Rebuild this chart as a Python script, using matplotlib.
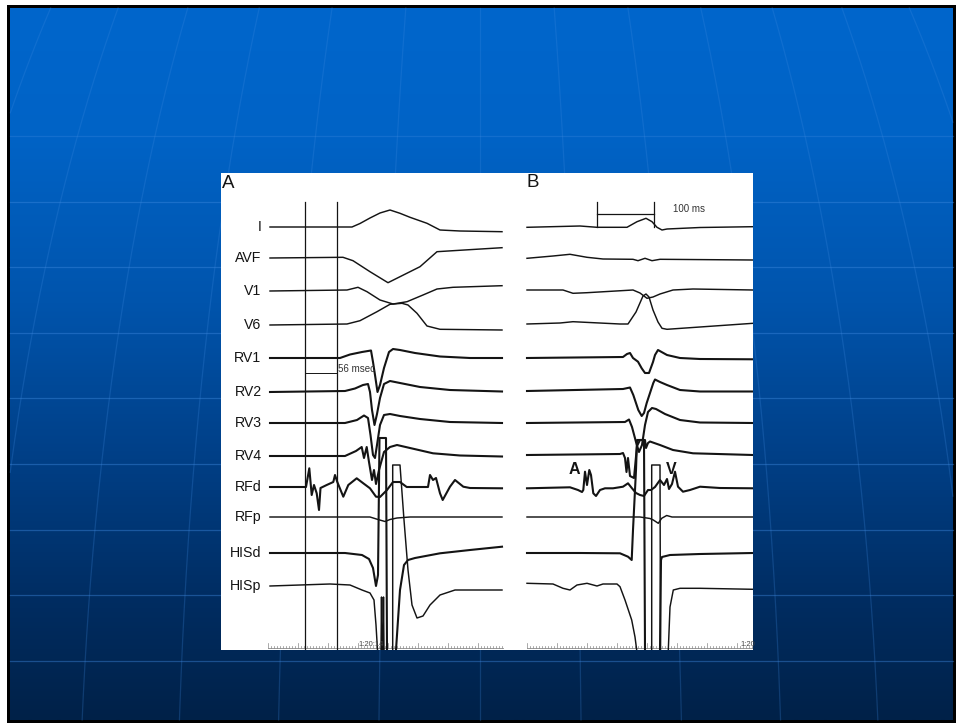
import numpy as np
import matplotlib
matplotlib.use("Agg")
import matplotlib.pyplot as plt
from matplotlib.patches import Rectangle

# ------------------------------------------------------------------
# DATA  (t = samples from trace start, v = deflection, +up; None = clipped gap)
# ------------------------------------------------------------------
channels = ["I", "AVF", "V1", "V6", "RV1", "RV2", "RV3", "RV4", "RFd", "RFp", "HISd", "HISp"]
noisy_channels = ["RV1", "RV2", "RV3", "RV4", "RFd", "HISd"]

# ---------- Panel A ----------
A_I = [(0, 0), (82, 0), (90, 3.5), (100, 9), (110, 14), (120, 17), (130, 13.7), (140, 9.7),
       (157, 3.7), (170, -3), (190, -4), (232, -4.7)]
A_AVF = [(0, 0), (73, 0.7), (83, -2.7), (100, -13.7), (118, -24.7), (130, -18.7), (150, -8.7),
         (167, 6.3), (183, 7.3), (232, 10.3)]
A_V1 = [(0, 0), (77, 1), (88, 3.7), (97, -0.7), (110, -9), (123, -13), (137, -10.7), (153, -4),
        (167, 2), (183, 3.7), (232, 5.3)]
A_V6 = [(0, 0), (77, 1), (90, 4.3), (107, 13.3), (120, 20.7), (132, 21.7), (138, 20), (147, 11.7),
        (157, -1), (170, -4.3), (232, -5)]
A_RV1 = [(0, 0), (70, 0), (80, 3.5), (92, 6), (98, 7), (101, 7.5), (103, -4), (105, -17), (107.5, -34),
         (110, -27), (114, -10), (119, 6), (123, 9), (130, 8), (145, 5), (170, 1.5), (200, 0), (232, 0)]
A_RV2 = [(0, 0), (75, 1), (85, 3.5), (93, 7), (98, 8), (100, 0), (102, -18), (104.5, -33), (107, -22),
         (110, -6), (114, 8), (120, 11), (130, 9), (150, 5), (180, 2), (232, 0.5)]
A_RV3 = [(0, 0), (75, 0), (87, 3), (94, 7.5), (98, 5), (100.5, -12), (103, -32), (105, -35), (107, -22),
         (110, -2), (114, 8), (120, 9), (130, 7), (150, 4), (180, 1), (232, 0)]
A_RV4 = [(0, 0), (75, 0), (86, 5), (91.7, 9), (94, -2), (96.7, 9), (99, -6), (102, -24), (104, -14),
         (106, -28), (109, -14), (114, 4), (120, 9), (127, 11), (140, 8), (163, 2.7), (190, 0.5), (232, -0.5)]
A_RFd = [(0, 0), (36, 0), (39.3, 18.7), (41.7, -8), (44, 2), (46.7, -6.3), (49, -23), (50.5, -1),
         (56.7, 2), (63.3, 5), (65, 12), (67.3, 5), (73.3, -9.7), (78.3, 2), (86.7, 8.7), (93.3, 3.7),
         (100, -1.3), (106, -9.7), (110, -10), (117, -3), (123, 5), (130, 5), (136.7, 0), (158, 0),
         (160, 12), (163, 7), (166, 9), (170, -6.3), (172.7, -13), (180, 0.3), (185, 7), (193.3, 0.3),
         (200, -1), (232, -1.3)]
A_RFp = [(0, 0), (100, 0), (108, -2.5), (115, -4.5), (120, -2.5), (127, -1), (140, 0), (232, 0)]
A_HISd = [(0, 0), (75, 0), (92, -2), (99, -6), (103, -15), (106, -33), (108, -22), (109.5, 115),
          (116, 115), (117, -97), None,
          (126, -97), (130, -37), (134, -12), (138, -7), (145, -5), (170, -0.3), (200, 3), (232, 6.3)]
A_HISp = [(0, 0), (30, 1), (60, 2), (80, 1), (92, -4), (100, -7), (104, -14), (106, -39), (107.5, -64), None,
          (111, -64), (111.5, -11), (112, -64), None,
          (113, -64), (113.5, -11), (114, -64), None,
          (122.7, -64), (122.7, 121), (130, 121), (134, 66), (138, 16), (142, -19), (147, -32),
          (153, -30), (160, -19), (170, -9), (185, -4), (232, -4)]

# ---------- Panel B ----------
B_I = [(0, -0.3), (53, 1), (70, -0.3), (100, -0.3), (110, 5.3), (119, 8.7), (125, 5.3), (130, -0.3),
       (135, -3), (140, -2), (173, -0.5), (226, 0.3)]
B_AVF = [(0, -0.3), (26, 2), (43, 3.7), (60, 0.7), (76, -1), (106, -1.3), (111, -2.7), (118, -0.3),
         (125, -2.7), (133, -1.3), (226, -2)]
B_V1 = [(0, 0), (36, 0), (46, -3.3), (60, -2.7), (106, 0), (113, -3), (120, -8.3), (126, -7),
        (133, -4), (146, 0), (166, 1), (226, 0)]
B_V6 = [(0, 0), (33, 1), (46, 2.3), (93, 0), (101, 0), (109, 12), (116, 28), (119, 30), (122, 27),
        (126, 14), (131, 2), (135, -4.3), (140, -5.3), (226, 0.7)]
B_RV1 = [(0, 0), (96, 1), (100, 4), (103, 5), (106, 0), (111, -3.7), (114.7, -10.3), (118, -15),
         (122, -15), (126, -4), (128, 3), (131, 8), (140, 3), (153, 0), (173, -1), (226, -1.3)]
B_RV2 = [(0, 0), (96, 2), (103, 3.5), (106.3, -4), (111.3, -19), (114.7, -25), (117, -22), (119.7, -12),
         (123, -2), (126.3, 8), (128, 11.5), (133, 9), (140, 6), (153, 1), (173, -0.5), (226, -0.5)]
B_RV3 = [(0, 0), (98, 1), (102, 3.5), (105, -4), (109, -19), (112, -29), (115, -22), (118, -2),
         (121, 11), (125, 15), (129, 14), (138, 9), (153, 3), (173, 0.5), (226, 0)]
B_RV4 = [(0, 0), (93, 1), (96, 2), (98, -3), (99.5, -17), (101, -3), (103, -21), (107, -23), (110, 9),
         (113, 15), (118, 15), (119, 7), (121, 12), (123, 13.5), (133, 10), (146, 5), (166, 1.7), (226, 0)]
B_RFd = [(0, -0.3), (43, 0.7), (51, -2), (55, -4), (56.3, -2), (58, 16.3), (60, 3), (62.3, 18),
         (64, 13), (66.3, -5.3), (69, -8), (73, -2), (78, -0.3), (86, -0.3), (96, 1.3), (101, 4.7),
         (105, -0.3), (109, -5), (113, -7), (117, -8), (121, -2), (124, -2), (128, 1), (133, 8),
         (137, 3), (140, 9), (142, -1), (145, 4), (148, 16.3), (151, 1.3), (156, -3.7), (163, -2),
         (173, 1.3), (193, 0), (226, -0.3)]
B_RFp = [(0, 0), (113, 0), (123, -1.5), (126.3, -3), (131.3, -6.3), (134.7, -1.3), (139.7, 1.5),
         (145, 0), (226, 0)]
B_HISd = [(0, 0), (53, 0), (93, -0.3), (101, -3.7), (104.7, -7), (106, 23), (109, 83), (110, 113),
          (117, 113), (118, -97), None,
          (133, -97), (134, -7), (135, -4), (143, -2), (173, -1), (226, 0)]
B_HISp = [(0, 0.7), (26, 0), (36, -4.3), (43, -6), (50, -1), (60, 0.7), (70, -2), (76, 0), (90, 0),
          (93, -2.7), (98, -16), (104.7, -36), (108, -53), (109.7, -66), None,
          (124.7, -66), (124.7, 119), (133, 119), (133.5, -66), None,
          (141.3, -66), (143, -23), (146.3, -6), (153, -4.3), (173, -4.3), (226, -5.3)]

A_traces = [A_I, A_AVF, A_V1, A_V6, A_RV1, A_RV2, A_RV3, A_RV4, A_RFd, A_RFp, A_HISd, A_HISp]
B_traces = [B_I, B_AVF, B_V1, B_V6, B_RV1, B_RV2, B_RV3, B_RV4, B_RFd, B_RFp, B_HISd, B_HISp]

# annotations
A_cursors = [35, 66.7]          # two vertical calipers in panel A
A_interval_label = "56 msec"
B_scalebar = [69.7, 127.3]      # 100 ms calibration
B_scalebar_label = "100 ms"
B_marks = [("A", 47), ("V", 144)]

# ------------------------------------------------------------------
# LAYOUT / STYLE
# ------------------------------------------------------------------
W, H = 960, 723
A_offsets = [423, 392, 359, 325, 292, 258, 227, 194, 163, 133, 97, 64]
B_offsets = [423, 392, 360, 326, 292, 259, 227, 195, 162, 133, 97, 66]
FONT = ["Liberation Sans", "DejaVu Sans"]
INK = "#141414"

fig = plt.figure(figsize=(W / 100, H / 100), dpi=100)
fig.patch.set_facecolor("white")

# ---------- slide background ----------
bg = fig.add_axes([0, 0, 1, 1])
bg.set_xlim(0, W)
bg.set_ylim(H, 0)
bg.axis("off")
bg.add_patch(Rectangle((7, 5), 949, 718, facecolor="black", edgecolor="none", zorder=0))
stops_y = np.array([0, 130, 300, 450, 600, 723])
stops_c = np.array([[0, 102, 204], [0, 99, 198], [0, 84, 172], [0, 64, 136], [0, 45, 98], [0, 33, 72]]) / 255
yy = np.linspace(0, H, 400)
grad = np.stack([np.interp(yy, stops_y, stops_c[:, i]) for i in range(3)], axis=1)[:, None, :]
bg.imshow(grad, extent=(10, 953, 720, 8), aspect="auto", zorder=1, interpolation="bilinear")
# faint globe grid
for k in range(9):
    y0 = 136 + 65.6 * k
    bg.plot([10, 953], [y0, y0], color="#3f8ae0", alpha=0.3 if k == 0 else 0.42, lw=0.9, zorder=2)
ys = np.linspace(8, 720, 300)
coslat = np.sqrt(1 - ((900 - ys) / 1300) ** 2)
for k in range(-9, 10):
    xs = 480 + 1300 * np.sin(np.radians(4.5 * k)) * coslat
    m = (xs > 10) & (xs < 953)
    bg.plot(xs[m], ys[m], color="#3f8ae0", alpha=0.25, lw=0.9, zorder=2)


def draw_panel(ax, traces, offsets):
    for name, tr, off in zip(channels, traces, offsets):
        t = [np.nan if p is None else p[0] for p in tr]
        v = [np.nan if p is None else off + p[1] for p in tr]
        lw = 1.5 if name in noisy_channels else 1.05
        ax.plot(t, v, color=INK, lw=lw, solid_joinstyle="round", zorder=3)


def setup(ax, xlim):
    ax.set_xlim(*xlim)
    ax.set_ylim(0, 477)
    ax.set_facecolor("white")
    for s in ax.spines.values():
        s.set_visible(False)
    ax.set_xticks([])
    ax.set_yticks([])


# ---------- panel A ----------
axA = fig.add_axes([221 / W, (H - 650) / H, (519 - 221) / W, 477 / H])
setup(axA, (-49, 249))
draw_panel(axA, A_traces, A_offsets)
for name, off in zip(channels, A_offsets):
    axA.text(-8.5, off, name, ha="right", va="center", fontsize=10.2, family=FONT, color=INK)
for c in A_cursors:
    axA.plot([c, c], [0, 448.3], color=INK, lw=0.9, zorder=3)
axA.plot(A_cursors, [277.3, 277.3], color=INK, lw=0.7, zorder=3)
axA.text(A_cursors[1] + 1.5, 281, A_interval_label, ha="left", va="center", fontsize=7,
         family=FONT, color="#333333")
axA.text(-48.5, 466.5, "A", ha="left", va="center", fontsize=13.5, family=FONT, color=INK)
# time ruler
axA.plot([-2, 233], [2.5, 2.5], color="#888888", lw=0.6)
for tk in np.arange(-2, 233, 3):
    h = 4.5 if (tk + 2) % 30 == 0 else 1.8
    axA.plot([tk, tk], [2.5, 2.5 + h], color="#888888", lw=0.5)
axA.text(88, 6, "1:20:14", fontsize=5.5, family=FONT, color="#444444", va="center")

# ---------- panel B ----------
axB = fig.add_axes([519 / W, (H - 650) / H, (753 - 519) / W, 477 / H])
setup(axB, (-8, 226))
draw_panel(axB, B_traces, B_offsets)
for c in B_scalebar:
    axB.plot([c, c], [422.7, 448.3], color=INK, lw=0.9, zorder=3)
axB.plot(B_scalebar, [436, 436], color=INK, lw=0.9, zorder=3)
axB.text(146, 440.7, B_scalebar_label, ha="left", va="center", fontsize=7, family=FONT, color="#333333")
axB.text(-0.5, 467.5, "B", ha="left", va="center", fontsize=13.5, family=FONT, color=INK)
for lab, t in B_marks:
    axB.text(t, 180, lab, ha="center", va="center", fontsize=11.5, fontweight="bold",
             family=FONT, color=INK)
axB.plot([0, 226], [2.5, 2.5], color="#888888", lw=0.6)
for tk in np.arange(0, 226, 3):
    h = 4.5 if tk % 30 == 0 else 1.8
    axB.plot([tk, tk], [2.5, 2.5 + h], color="#888888", lw=0.5)
axB.text(213, 6, "1:20", fontsize=5.5, family=FONT, color="#444444", va="center")

fig.savefig("out.png", dpi=100, facecolor=fig.get_facecolor())
